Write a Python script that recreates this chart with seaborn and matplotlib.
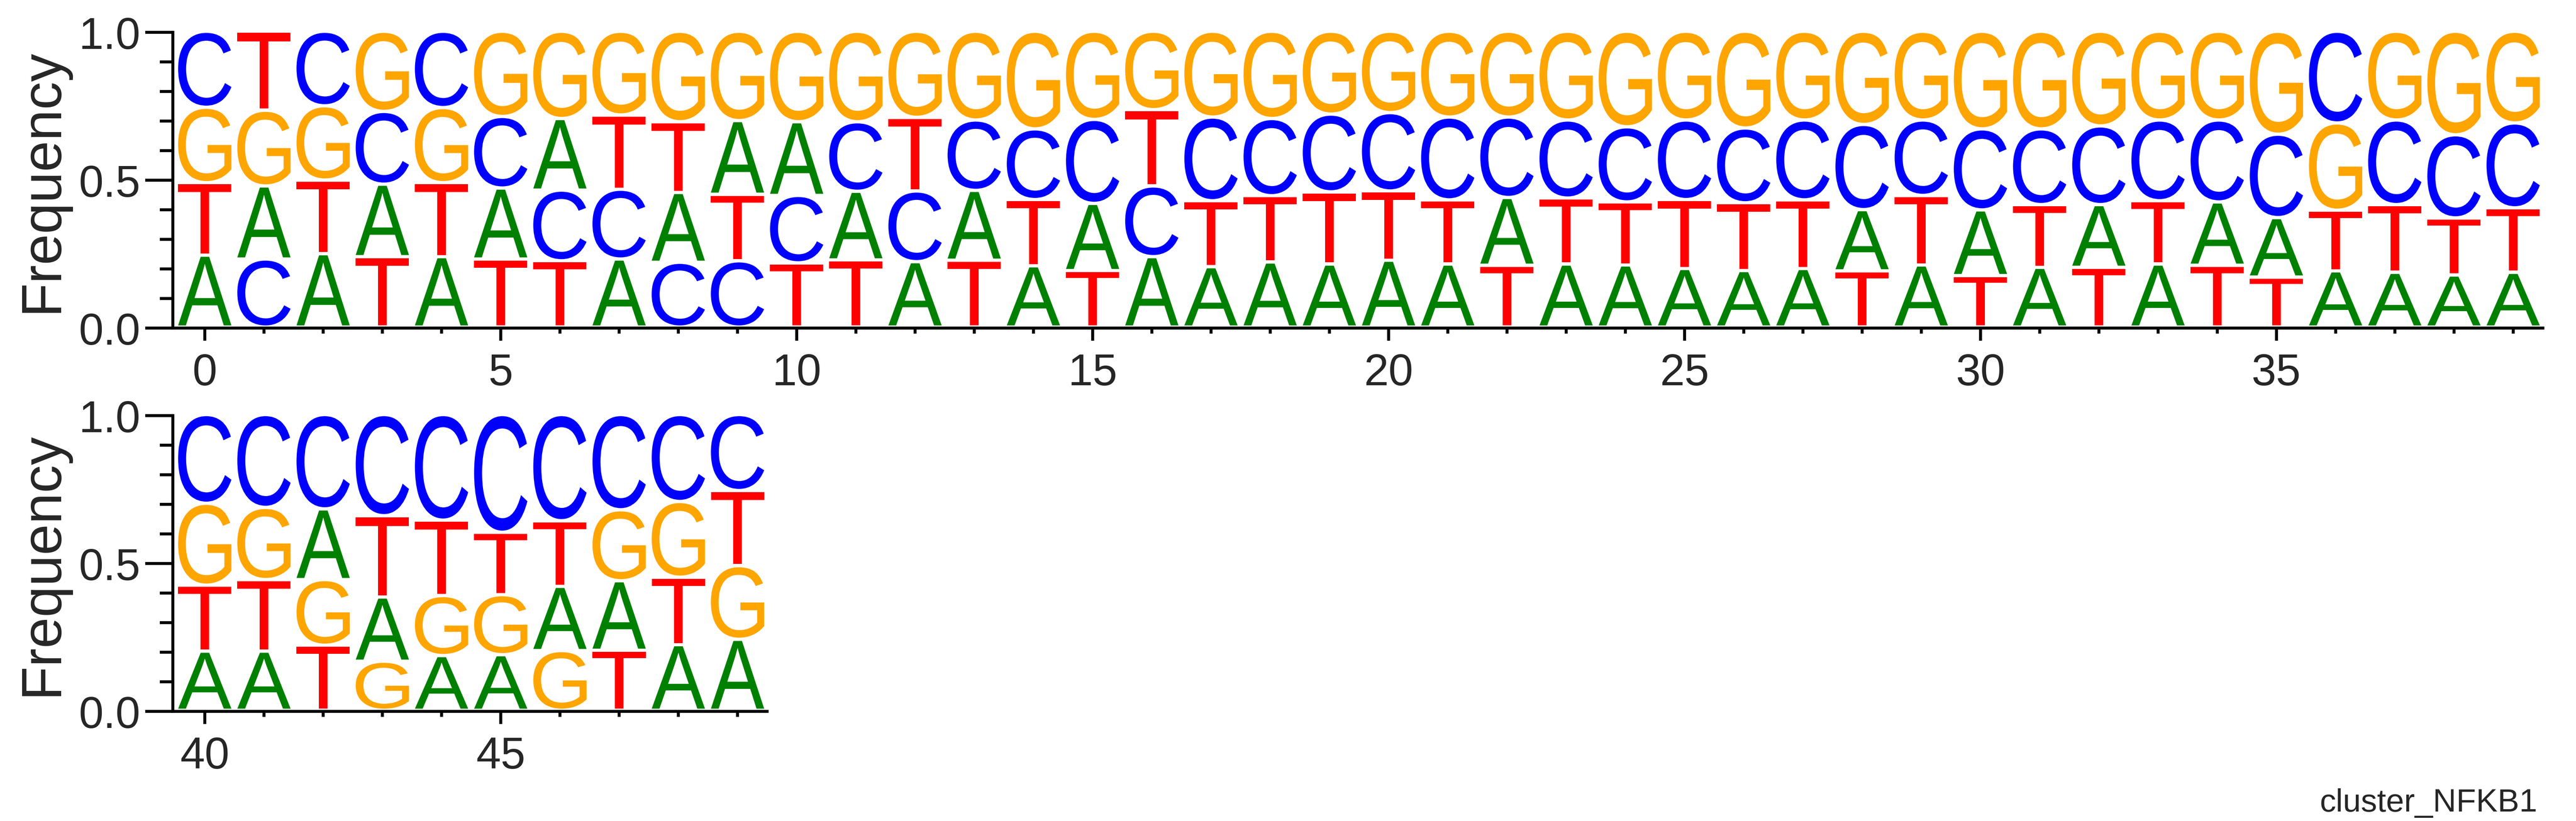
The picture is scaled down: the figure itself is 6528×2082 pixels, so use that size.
import numpy as np
import pandas as pd
import matplotlib
matplotlib.use("Agg")
import matplotlib.pyplot as plt
from matplotlib.textpath import TextPath
from matplotlib.patches import PathPatch
from matplotlib.font_manager import FontProperties
from matplotlib.transforms import Affine2D
from matplotlib.ticker import MultipleLocator
import seaborn as sns

positions = list(range(50))
freq_A = [0.243, 0.247, 0.248, 0.245, 0.238, 0.240, 0.242, 0.230, 0.236, 0.249,
          0.249, 0.232, 0.221, 0.236, 0.207, 0.227, 0.238, 0.204, 0.220, 0.213,
          0.226, 0.213, 0.229, 0.213, 0.210, 0.198, 0.191, 0.198, 0.207, 0.210,
          0.222, 0.202, 0.212, 0.213, 0.214, 0.201, 0.190, 0.185, 0.176, 0.185,
          0.200, 0.200, 0.239, 0.217, 0.185, 0.188, 0.217, 0.235, 0.222, 0.240]
freq_C = [0.257, 0.230, 0.252, 0.246, 0.258, 0.242, 0.239, 0.236, 0.219, 0.224,
          0.228, 0.235, 0.239, 0.238, 0.239, 0.284, 0.239, 0.283, 0.261, 0.263,
          0.265, 0.280, 0.272, 0.264, 0.254, 0.269, 0.253, 0.270, 0.288, 0.255,
          0.274, 0.256, 0.266, 0.273, 0.277, 0.282, 0.310, 0.286, 0.281, 0.287,
          0.300, 0.314, 0.319, 0.342, 0.357, 0.398, 0.359, 0.322, 0.294, 0.257]
freq_G = [0.255, 0.256, 0.251, 0.271, 0.254, 0.288, 0.295, 0.283, 0.306, 0.302,
          0.306, 0.306, 0.291, 0.300, 0.330, 0.298, 0.265, 0.290, 0.295, 0.280,
          0.275, 0.290, 0.290, 0.300, 0.323, 0.300, 0.327, 0.300, 0.315, 0.300,
          0.330, 0.330, 0.320, 0.300, 0.300, 0.348, 0.295, 0.300, 0.350, 0.310,
          0.277, 0.244, 0.222, 0.166, 0.203, 0.203, 0.202, 0.240, 0.256, 0.249]
freq_T = [0.245, 0.267, 0.249, 0.238, 0.250, 0.230, 0.224, 0.251, 0.239, 0.225,
          0.217, 0.227, 0.249, 0.226, 0.224, 0.191, 0.258, 0.223, 0.224, 0.244,
          0.234, 0.217, 0.209, 0.223, 0.213, 0.233, 0.229, 0.232, 0.190, 0.235,
          0.174, 0.212, 0.202, 0.214, 0.209, 0.169, 0.205, 0.229, 0.193, 0.218,
          0.223, 0.242, 0.220, 0.275, 0.255, 0.211, 0.222, 0.203, 0.228, 0.254]

letter_colors = {"A": "green", "C": "blue", "G": "orange", "T": "red"}
motif_name = "cluster_NFKB1"

df = pd.DataFrame({"A": freq_A, "C": freq_C, "G": freq_G, "T": freq_T}, index=positions)

sns.set_theme(style="ticks")
plt.rcParams["font.family"] = ["Liberation Sans", "DejaVu Sans"]

glyph_font = FontProperties(family="Liberation Sans")


def draw_letter(ax, ch, x, y0, h, color, width=0.9, pad_bot=0.009, pad_top=0.002):
    tp = TextPath((0, 0), ch, size=1, prop=glyph_font)
    bb = tp.get_extents()
    hh = max(h - pad_bot - pad_top, 1e-4)
    tr = (Affine2D().translate(-bb.x0, -bb.y0)
          .scale(width / bb.width, hh / bb.height)
          .translate(x - width / 2, y0 + pad_bot))
    patch = PathPatch(tr.transform_path(tp), facecolor=color, edgecolor="none", lw=0)
    ax.add_patch(patch)


def draw_logo(ax, sub):
    for pos, row in sub.iterrows():
        y = 0.0
        for ch, val in row.sort_values(kind="stable").items():
            draw_letter(ax, ch, pos, y, val, letter_colors[ch])
            y += val


def style_axes(ax, xmin, xmax):
    ax.set_xlim(xmin - 0.5, xmax + 0.5)
    ax.set_ylim(0, 1)
    sns.despine(ax=ax)
    ax.spines["left"].set_position(("outward", 1.5))
    for s in ["left", "bottom"]:
        ax.spines[s].set_linewidth(1.8)
        ax.spines[s].set_color("black")
    ax.set_yticks([0.0, 0.5, 1.0])
    ax.set_yticklabels(["0.0", "0.5", "1.0"])
    ax.yaxis.set_minor_locator(MultipleLocator(0.1))
    ax.xaxis.set_major_locator(MultipleLocator(5))
    ax.xaxis.set_minor_locator(MultipleLocator(1))
    ax.tick_params(axis="y", which="major", length=16.8, width=1.8, pad=2.9,
                   labelsize=27, color="black", direction="out")
    ax.tick_params(axis="y", which="minor", length=7.9, width=1.8, color="black", left=True)
    ax.tick_params(axis="x", which="major", length=7.7, width=1.8, pad=7.2,
                   labelsize=27, color="black", direction="out")
    ax.tick_params(axis="x", which="minor", length=3.4, width=1.8, color="black", bottom=True)
    ax.set_ylabel("Frequency", fontsize=34, labelpad=6)
    ax.grid(False)


fig = plt.figure(figsize=(21.76, 6.9433), dpi=300)
ax_top = fig.add_axes([0.0680, 0.6001, 0.9191, 0.3601])
ax_bot = fig.add_axes([0.0680, 0.1335, 0.2298, 0.3601])

draw_logo(ax_top, df.loc[0:39])
style_axes(ax_top, 0, 39)
draw_logo(ax_bot, df.loc[40:49])
style_axes(ax_bot, 40, 49)

fig.text(0.985, 0.012, motif_name, ha="right", va="baseline", fontsize=19.7)

fig.savefig("out.png", dpi=300)
